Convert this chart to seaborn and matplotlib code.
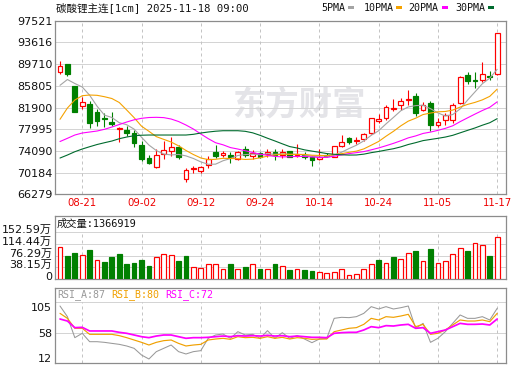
import numpy as np
import pandas as pd
import matplotlib
matplotlib.use("Agg")
import matplotlib.pyplot as plt
import seaborn as sns
from matplotlib.patches import Rectangle
from matplotlib.transforms import ScaledTranslation

# ---------------- data ----------------
title_text = "碳酸锂主连[1cm] 2025-11-18 09:00"
date_labels = ["08-21", "09-02", "09-12", "09-24", "10-14", "10-24", "11-05", "11-17"]
date_index = [3, 11, 19, 27, 35, 43, 51, 59]

opens = [88233, 89727, 85767, 82221, 82527, 81087, 80061, 79287, 77973, 77901,
         77361, 75147, 72861, 71241, 73473, 74013, 74841, 68973, 70773, 70467,
         71553, 73887, 73293, 73293, 72681, 74481, 73221, 73653, 73473, 73833,
         73293, 74067, 73167, 73293, 73041, 72681, 73347, 73041, 75021, 76353,
         75921, 76173, 77253, 79521, 79953, 81627, 82347, 83253, 83967, 81393,
         82653, 78699, 79647, 79647, 82761, 87747, 86847, 86847, 87567, 87927]
highs = [90267, 89800, 85850, 83733, 83067, 81681, 80961, 81087, 78441, 78567,
         77847, 75921, 73293, 74373, 75921, 76533, 75100, 70953, 71367, 71430,
         73167, 75147, 74067, 73941, 74100, 74961, 74247, 73900, 74373, 74373,
         74373, 74150, 75327, 73887, 73100, 74373, 73700, 75000, 76947, 76600,
         76533, 77361, 80000, 80727, 82300, 83481, 83553, 85047, 84561, 82887,
         83121, 79953, 80961, 82653, 87500, 88341, 88233, 90087, 88467, 95300]
lows = [87927, 87567, 81050, 81681, 78261, 78567, 78333, 78567, 75741, 76767,
        74841, 72267, 71800, 71100, 72681, 73167, 72681, 68541, 70161, 70161,
        70953, 72753, 72933, 71859, 72500, 73041, 72573, 72800, 72933, 72447,
        72900, 72950, 72933, 72600, 71453, 72500, 72930, 72930, 74841, 75400,
        75327, 75921, 77200, 79161, 79600, 81321, 81500, 82347, 80367, 81300,
        77721, 78441, 78747, 79161, 82600, 86073, 85461, 86541, 86847, 87800]
closes = [89367, 87927, 81141, 82941, 79161, 79521, 79881, 78981, 78261, 77361,
          75561, 72573, 71961, 73293, 74247, 74733, 73041, 70647, 70953, 71187,
          72573, 73167, 73707, 72933, 73941, 73347, 73653, 73041, 73941, 73347,
          73887, 73041, 73347, 73041, 72447, 73041, 73167, 74961, 75633, 75741,
          76047, 77073, 79953, 79773, 81933, 81861, 83067, 83373, 80961, 82293,
          78747, 79287, 80547, 82293, 87333, 86667, 86667, 87927, 87327, 95253]

# moving-average values before enough closes are on the chart
ma5_early = [85893, 86937, 86217, 85587]
ma10_early = [79773, 81807, 83247, 84021, 84147, 84093, 83841, 83517, 82797]
ma20_early = [75777, 76353, 76947, 77307, 77487, 77667, 77973, 78387, 78837, 79287,
              79683, 79953, 80097, 80133, 80079, 79827, 79377, 78747, 78027]
ma30_early = [72807, 73347, 73941, 74427, 74841, 75237, 75561, 75867, 76281, 76587,
              76821, 76911, 76947, 76947, 76947, 76947, 76947, 76947, 77073, 77307,
              77487, 77631, 77721, 77721, 77721, 77613, 77343, 76893, 76371]
ma_periods = [5, 10, 20, 30]
ma_names = ["5PMA", "10PMA", "20PMA", "30PMA"]
ma_colors = ["#a4a4a4", "#f5a200", "#ff00ff", "#006b2e"]

price_ticks = [97521, 93616, 89710, 85805, 81900, 77995, 74090, 70184, 66279]

volumes_wan = [103.3, 74.7, 84.5, 77.0, 94.4, 61.5, 54.9, 71.4, 81.2, 48.3,
               51.6, 61.5, 41.8, 71.4, 80.3, 77.9, 58.2, 74.7, 40.8, 37.5,
               47.4, 47.4, 31.9, 48.3, 34.2, 38.5, 47.4, 32.9, 31.9, 48.3,
               44.1, 28.6, 34.2, 28.6, 25.3, 24.3, 21.0, 24.3, 34.2, 14.5,
               17.8, 34.2, 47.4, 61.5, 50.7, 71.4, 63.8, 83.5, 91.1, 58.2,
               97.7, 50.7, 58.2, 80.3, 100.0, 91.1, 116.4, 110.8, 74.7, 136.69]
vol_up = [1, 0, 0, 1, 0, 1, 0, 0, 0, 0,
          0, 0, 0, 1, 1, 1, 0, 0, 1, 1,
          1, 1, 1, 0, 1, 0, 1, 0, 1, 0,
          1, 0, 1, 0, 0, 1, 1, 1, 1, 1,
          1, 1, 1, 0, 1, 0, 1, 1, 0, 1,
          0, 1, 1, 1, 1, 0, 1, 1, 0, 1]
vol_last = 1366919
vol_ticks = [0, 38.15, 76.29, 114.44, 152.59]
vol_tick_labels = ["0", "38.15万", "76.29万", "114.44万", "152.59万"]

rsi_a = [107.2, 87.6, 49.0, 57.0, 41.6, 41.6, 40.4, 38.5, 36.7, 33.7,
         29.4, 17.1, 9.8, 23.3, 29.4, 35.5, 23.3, 19.0, 23.3, 25.1,
         47.8, 53.9, 55.7, 47.8, 60.0, 53.9, 55.1, 47.8, 61.9, 47.8,
         58.2, 47.8, 52.7, 46.5, 39.8, 46.5, 47.8, 84.5, 86.4, 85.8,
         87.6, 93.7, 106.0, 101.7, 106.0, 101.7, 104.1, 107.2, 66.2, 75.3,
         40.4, 47.8, 60.0, 75.3, 90.7, 84.5, 84.5, 87.6, 81.5, 102.9]
rsi_b = [93.7, 84.5, 66.2, 66.2, 55.1, 55.1, 55.1, 55.1, 52.7, 49.0,
         44.7, 40.4, 35.5, 40.4, 43.5, 44.7, 38.5, 33.7, 35.5, 36.7,
         44.7, 46.5, 47.8, 45.9, 50.8, 49.0, 49.6, 47.8, 50.8, 47.8,
         49.6, 46.5, 49.0, 47.8, 45.9, 46.5, 46.5, 60.0, 63.1, 66.2,
         67.4, 73.5, 84.5, 81.5, 87.6, 86.4, 88.8, 91.9, 69.2, 73.5,
         55.1, 57.0, 63.1, 72.3, 81.5, 79.6, 79.6, 81.5, 78.4, 93.7]
rsi_c = [83.3, 79.6, 67.4, 68.0, 61.3, 61.3, 61.3, 61.3, 58.8, 57.0,
         53.9, 50.8, 49.0, 52.0, 53.9, 53.9, 50.8, 47.8, 49.0, 49.0,
         49.6, 50.8, 52.0, 50.8, 52.7, 52.0, 52.7, 52.0, 53.3, 52.0,
         52.7, 50.8, 52.0, 50.8, 49.6, 49.6, 49.0, 57.0, 58.2, 58.8,
         58.8, 63.1, 69.2, 67.4, 71.1, 70.4, 72.3, 73.5, 66.2, 67.4,
         57.0, 60.0, 63.1, 69.2, 75.3, 73.5, 73.5, 74.1, 72.3, 83.3]
rsi_header = ["RSI_A:87", "RSI_B:80", "RSI_C:72"]
rsi_colors = ["#999999", "#f0a000", "#ff00ff"]
rsi_ticks = [105, 58, 12]
rsi_mid = 58

# ---------------- style ----------------
sns.set_style("white")
plt.rcParams["font.family"] = ["DejaVu Sans", "Noto Sans CJK SC"]
MONO = ["DejaVu Sans Mono", "Noto Sans CJK SC"]
UP = "#ff0000"
DOWN = "#008000"
GRID = "#d4d4d4"
VGRID = "#c4c4c4"
FRAME = "#8c8c8c"
PX = 0.72  # one pixel in points

W, H = 520, 365
fig = plt.figure(figsize=(W / 100, H / 100), dpi=100)
fig.patch.set_facecolor("white")


def box(l, t, r, b):
    return [l / W, 1 - b / H, (r - l) / W, (b - t) / H]


ax_p = fig.add_axes(box(55, 20.7, 505.7, 194.3))
ax_v = fig.add_axes(box(55, 215.7, 505.7, 279))
ax_r = fig.add_axes(box(55, 288.3, 505.7, 363.3))

n = len(closes)
idx = np.arange(n)
XLIM = (-0.675, n + 0.15)

for ax in (ax_p, ax_v, ax_r):
    ax.set_xlim(*XLIM)
    for s in ax.spines.values():
        s.set_color(FRAME)
        s.set_linewidth(0.9)
        s.set_visible(True)
    ax.set_facecolor("white")

# ---------------- price panel ----------------
ax_p.set_ylim(min(price_ticks), max(price_ticks))
ax_p.hlines(price_ticks[1:-1], XLIM[0], XLIM[1], colors=GRID, lw=PX, zorder=1)
ax_p.vlines(date_index, min(price_ticks), max(price_ticks), colors=VGRID,
            linestyles=(0, (3, 3)), lw=PX, zorder=1)

ax_p.text(232 / W, 1 - 106 / H, "东方财富", transform=fig.transFigure,
          fontsize=24, fontweight="bold", color="#e4e4e8",
          family=["Noto Sans CJK SC"], va="center", ha="left", zorder=0.5)

o = np.array(opens, float)
c = np.array(closes, float)
hi = np.array(highs, float)
lo = np.array(lows, float)
up = c >= o
ccol = np.where(up, UP, DOWN)
ax_p.vlines(idx, lo, hi, colors=ccol, lw=PX * 1.1, zorder=3)
ax_p.bar(idx, np.abs(c - o), bottom=np.minimum(o, c), width=0.64,
         color=np.where(up, "white", DOWN), edgecolor=ccol, linewidth=PX * 1.2, zorder=4)

early = [ma5_early, ma10_early, ma20_early, ma30_early]
for p, e, col in zip(ma_periods, early, ma_colors):
    ma = pd.Series(c).rolling(p).mean().to_numpy()
    ma[:p - 1] = e
    sns.lineplot(x=idx, y=ma, ax=ax_p, color=col, linewidth=0.8, zorder=5)

ax_p.set_yticks(price_ticks)
ax_p.set_yticklabels([str(t) for t in price_ticks])
ax_p.tick_params(axis="y", direction="in", length=5, width=0.8, color=FRAME,
                 pad=1.8, labelsize=8, labelcolor="#111111")
ax_p.set_xticks(date_index)
ax_p.set_xticklabels(date_labels)
ax_p.tick_params(axis="x", length=0, pad=3.0, labelsize=7.3, labelcolor="#ee0000")
ax_p.set_xlabel("")
ax_p.set_ylabel("")

# ---------------- volume panel ----------------
VTOP = max(vol_ticks) * (279 - 215.7) / (279 - 232.3)
ax_v.set_ylim(0, VTOP)
ax_v.hlines(vol_ticks[1:], XLIM[0], XLIM[1], colors=GRID, lw=PX, zorder=1)
ax_v.vlines(date_index, 0, max(vol_ticks), colors=VGRID,
            linestyles=(0, (3, 3)), lw=PX, zorder=1)
vu = np.array(vol_up).astype(bool)
vcol = np.where(vu, UP, DOWN)
ax_v.bar(idx, volumes_wan, width=0.64, color=np.where(vu, "white", DOWN),
         edgecolor=vcol, linewidth=PX * 1.2, zorder=3)
ax_v.set_yticks(vol_ticks)
ax_v.set_yticklabels(vol_tick_labels)
ax_v.tick_params(axis="y", length=0, pad=2.0, labelsize=8, labelcolor="#111111")
ax_v.set_xticks([])
for lab in ax_v.get_yticklabels():
    lab.set_transform(lab.get_transform() + ScaledTranslation(0, 3 / 100, fig.dpi_scale_trans))

# ---------------- RSI panel ----------------
def rsi_of_y(y):
    return 105 - (y - 307.2) / 0.544

ax_r.set_ylim(rsi_of_y(363.3), rsi_of_y(288.3))
sep = (363.3 - 301.7) / (363.3 - 288.3)
ax_r.plot([0, 1], [sep, sep], transform=ax_r.transAxes, color=GRID, lw=PX, zorder=1)
ax_r.axhline(rsi_mid, color=GRID, lw=PX, zorder=1)
ax_r.vlines(date_index, 0, sep, transform=ax_r.get_xaxis_transform(), colors=VGRID,
            linestyles=(0, (3, 3)), lw=PX, zorder=1)
for vals, col, lw in zip([rsi_a, rsi_b, rsi_c], rsi_colors, [0.75, 0.85, 1.25]):
    sns.lineplot(x=idx, y=vals, ax=ax_r, color=col, linewidth=lw, zorder=4)
ax_r.set_yticks(rsi_ticks)
ax_r.set_yticklabels([str(t) for t in rsi_ticks])
ax_r.tick_params(axis="y", length=0, pad=2.0, labelsize=8, labelcolor="#111111")
ax_r.set_xticks([])
ax_r.set_xlabel("")
ax_r.set_ylabel("")

# ---------------- header texts ----------------
fig.text(56 / W, 1 - 8 / H, title_text, family=MONO, fontsize=7.6,
         va="center", ha="left", color="#111111")

leg_text_x = [321.7, 363.3, 408.3, 455.0]
leg_box_x = [347.7, 396.0, 441.7, 487.7]
for name, col, tx, bx in zip(ma_names, ma_colors, leg_text_x, leg_box_x):
    fig.text(tx / W, 1 - 8 / H, name, family=MONO, fontsize=7.2,
             va="center", ha="left", color="#111111")
    fig.add_artist(Rectangle((bx / W, 1 - 9.3 / H), 5.8 / W, 3.4 / H,
                             transform=fig.transFigure, facecolor=col, edgecolor="none"))

fig.text(57 / W, 1 - 224 / H, f"成交量:{vol_last}", family=MONO, fontsize=7.4,
         va="center", ha="left", color="#111111")

rsi_text_x = [57.3, 111.7, 165.7]
for t, col, tx in zip(rsi_header, rsi_colors, rsi_text_x):
    fig.text(tx / W, 1 - 295 / H, t, family=MONO, fontsize=7.2,
             va="center", ha="left", color=col)

fig.savefig("out.png", dpi=100, facecolor="white")
